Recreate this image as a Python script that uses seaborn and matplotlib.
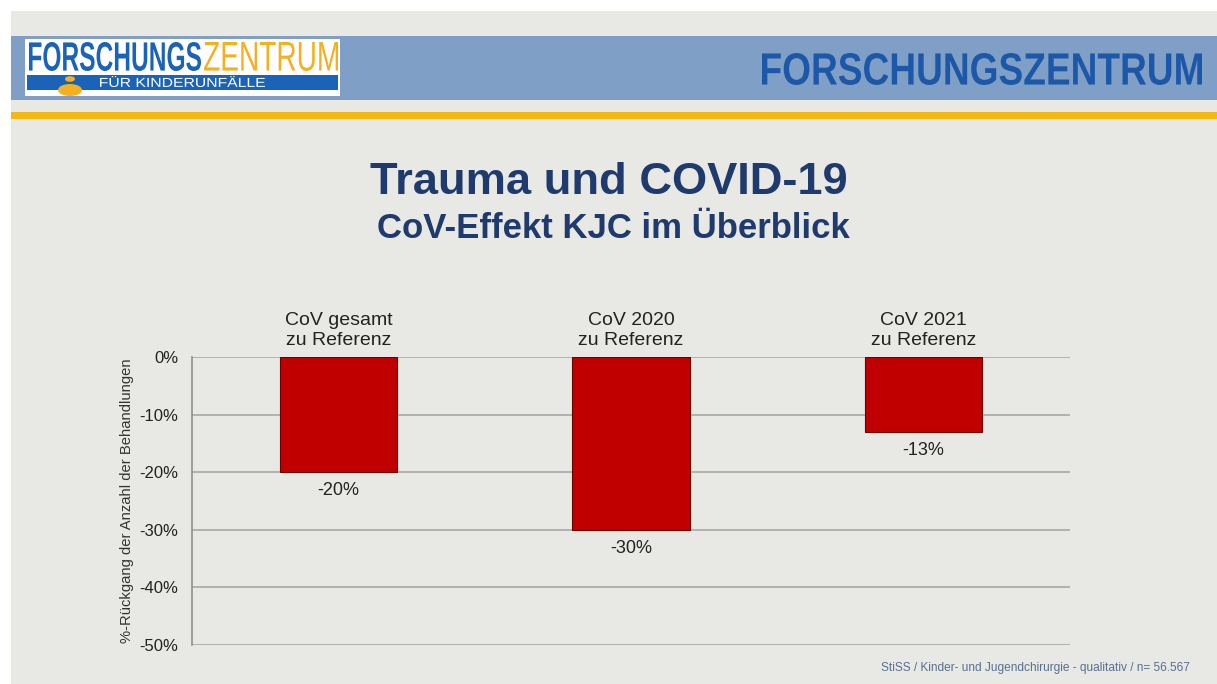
import matplotlib.pyplot as plt
import matplotlib.patches as mpatches
from matplotlib.textpath import TextPath
from matplotlib.font_manager import FontProperties
from matplotlib.transforms import Affine2D
import seaborn as sns
import pandas as pd

categories = ["CoV gesamt\nzu Referenz", "CoV 2020\nzu Referenz", "CoV 2021\nzu Referenz"]
values = [-20, -30, -13]
value_labels = ["-20%", "-30%", "-13%"]
y_ticks = [0, -10, -20, -30, -40, -50]
y_tick_labels = ["0%", "-10%", "-20%", "-30%", "-40%", "-50%"]

W, H = 1217, 684
BG = "#e8e8e4"

sns.set_theme(style="white")
plt.rcParams["font.family"] = ["Liberation Sans", "DejaVu Sans"]

fig = plt.figure(figsize=(W / 100, H / 100), dpi=100)
fig.patch.set_facecolor("white")


def px_rect(x0, y0, x1, y1, color, z=-5):
    # rectangle in pixel coords (origin top-left)
    fig.patches.append(mpatches.Rectangle(
        (x0 / W, 1 - y1 / H), (x1 - x0) / W, (y1 - y0) / H,
        transform=fig.transFigure, facecolor=color, edgecolor="none", zorder=z))


def px_word(s, x0, ybase, width, height, color, weight="normal", z=-1):
    # text squeezed into a given pixel box (narrow header lettering)
    tp = TextPath((0, 0), s, size=1, prop=FontProperties(family="Liberation Sans", weight=weight))
    ext = tp.get_extents()
    sx, sy = width / ext.width, height / ext.height
    tr = (Affine2D().translate(-ext.x0, -ext.y0).scale(sx / W, sy / H)
          .translate(x0 / W, 1 - ybase / H) + fig.transFigure)
    fig.patches.append(mpatches.PathPatch(tp, transform=tr, facecolor=color,
                                          edgecolor="none", zorder=z))


# slide background + header
px_rect(11, 11, W, H, BG)
px_rect(11, 36, W, 100, "#7f9fc6")
px_rect(11, 112, W, 119, "#f4b813")

# logo
px_rect(25, 39, 340, 96, "white", -4)
px_rect(27, 75, 338, 90, "#1b63b8", -3)
px_word("FORSCHUNGS", 29, 71, 172, 29, "#1b63b8", "bold")
px_word("ZENTRUM", 204, 71, 134, 29, "#f4b020")
px_word("FÜR KINDERUNFÄLLE", 100, 87, 165, 11, "white")
fig.patches.append(mpatches.Circle((70 / W, 1 - 79 / H), 5 / W, transform=fig.transFigure,
                                   facecolor="#f4b020", edgecolor="none", zorder=-1))
fig.patches.append(mpatches.Ellipse((70 / W, 1 - 90 / H), 24 / W, 12 / H,
                                    transform=fig.transFigure, facecolor="#f4b020",
                                    edgecolor="none", zorder=-1))

px_word("FORSCHUNGSZENTRUM", 762, 85, 440, 32, "#1d58a8", "bold")

# titles
fig.text(609 / W, 1 - 182 / H, "Trauma und COVID-19", color="#1f3a6c", fontsize=32.6,
         fontweight="bold", ha="center", va="center")
fig.text(613 / W, 1 - 229 / H, "CoV-Effekt KJC im Überblick", color="#1f3a6c", fontsize=25,
         fontweight="bold", ha="center", va="center")

# chart
ax = fig.add_axes([192 / W, 39 / H, 878 / W, 288 / H])
ax.set_zorder(5)
ax.set_facecolor(BG)
df = pd.DataFrame({"Kategorie": categories, "Wert": values})
sns.barplot(data=df, x="Kategorie", y="Wert", color="#c00000", width=0.4,
            edgecolor="#6a0000", linewidth=0.8, saturation=1, ax=ax, zorder=3)

ax.set_ylim(-50, 0)
ax.set_xlim(-0.5, 2.5)
ax.set_yticks(y_ticks)
ax.set_yticklabels(y_tick_labels, fontsize=12, color="#222222")
ax.yaxis.grid(True, color="#a8a8a8", linewidth=1.2, zorder=0)
ax.set_axisbelow(True)

ax.xaxis.tick_top()
ax.set_xticks(range(len(categories)))
ax.set_xticklabels(categories, fontsize=14, color="#222222", linespacing=1.2)
ax.tick_params(axis="x", length=0, pad=6)
ax.tick_params(axis="y", length=6, color="#909090", width=1, pad=4)
ax.set_xlabel("")
ax.set_ylabel("%-Rückgang der Anzahl der Behandlungen", fontsize=10.6, color="#333333",
              labelpad=4)

for s in ["top", "right", "bottom"]:
    ax.spines[s].set_visible(False)
ax.spines["left"].set_color("#909090")
ax.spines["left"].set_linewidth(1.2)

ax.bar_label(ax.containers[0], labels=value_labels, padding=7, fontsize=13, color="#222222")

fig.text(1190 / W, 1 - 668 / H, "StiSS / Kinder- und Jugendchirurgie - qualitativ / n= 56.567",
         color="#5a6f92", fontsize=8.6, ha="right", va="center")

fig.savefig("out.png", dpi=100, facecolor=fig.get_facecolor())
